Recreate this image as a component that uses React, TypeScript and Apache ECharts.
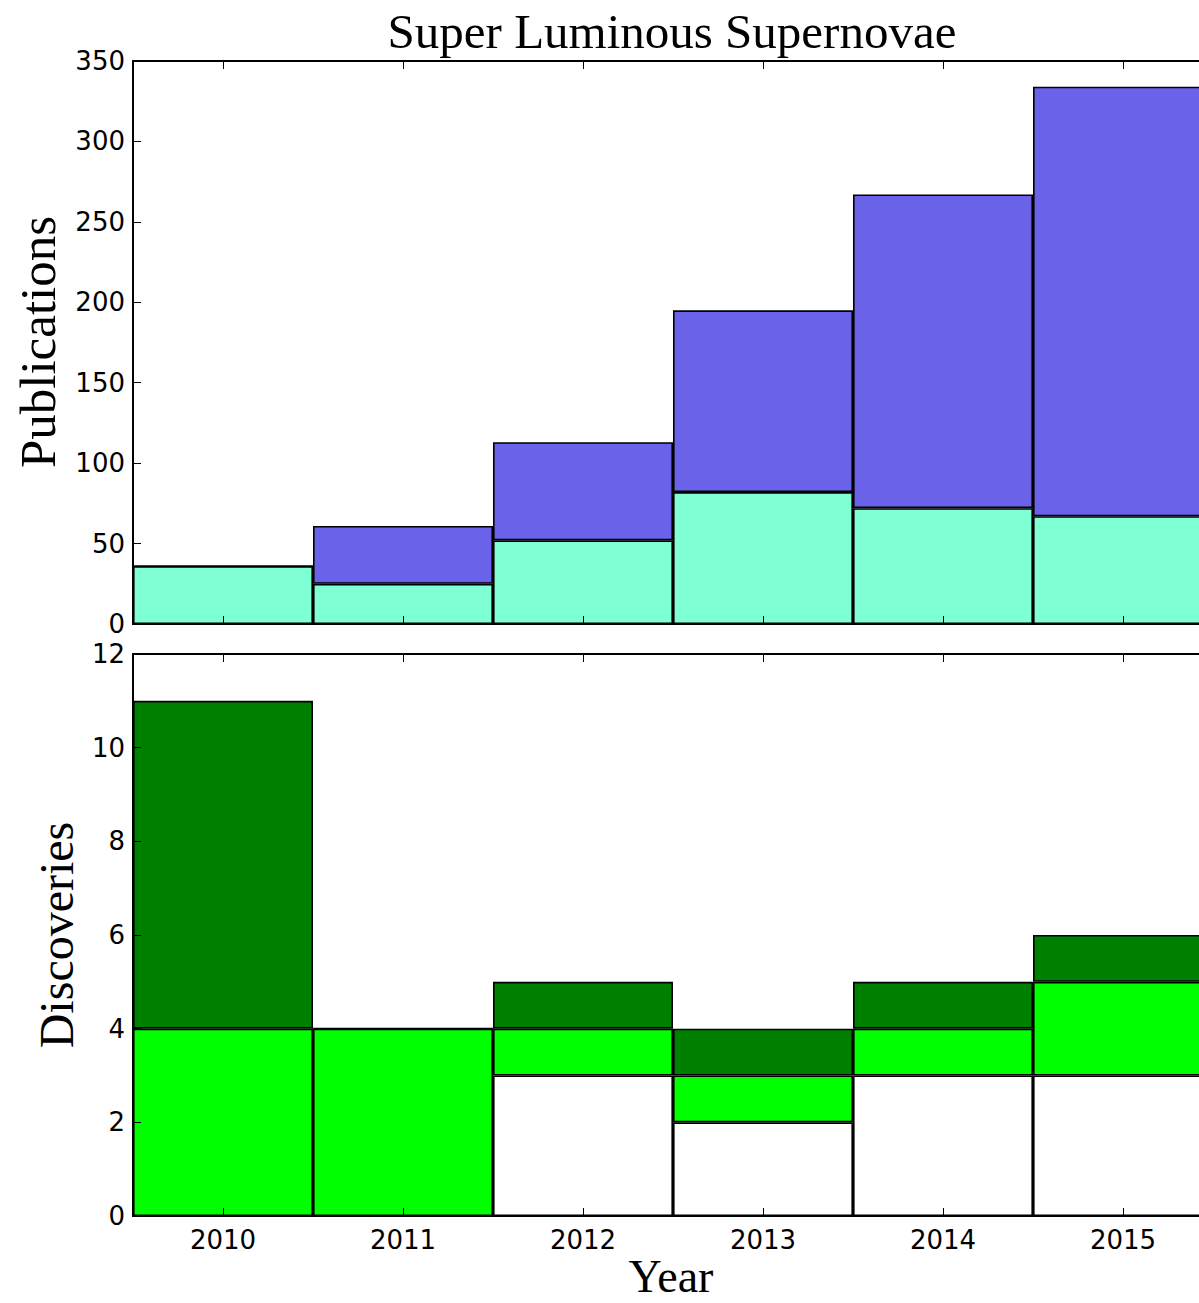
import React, { useEffect, useRef } from "react";
import * as echarts from "echarts";

const years = ["2010", "2011", "2012", "2013", "2014", "2015"];
// Publications: new in that year (aquamarine) and earlier cumulative (purple)
const newPublications = [36, 25, 52, 82, 72, 67];
const earlierPublications = [0, 36, 61, 113, 195, 267];
// Discoveries: stacked segments
const discWhite = [0, 0, 3, 2, 3, 3];
const discLime = [4, 4, 1, 1, 1, 2];
const discGreen = [7, 0, 1, 1, 1, 1];

const pubTicks = { min: 0, max: 350, interval: 50 };
const discTicks = { min: 0, max: 12, interval: 2 };

const SANS = "DejaVu Sans";
const SERIF = "Liberation Serif";

export default function App() {
  const ref = useRef<HTMLDivElement>(null);
  useEffect(() => {
    if (!ref.current) return;
    const chart = echarts.init(ref.current, null, { renderer: "svg" });
    const axisLine = { show: true, lineStyle: { color: "#000", width: 2 } };
    const tick = { show: true, inside: true, length: 8, alignWithLabel: true, lineStyle: { color: "#000", width: 1 } };
    const xAxisBase = (gridIndex: number, position: string, labels: boolean) => ({
      type: "category",
      data: years,
      gridIndex,
      position,
      z: 10,
      boundaryGap: true,
      axisLine,
      axisTick: tick,
      axisLabel: labels
        ? { show: true, color: "#000", fontFamily: SANS, fontSize: 26, margin: 11 }
        : { show: false },
      splitLine: { show: false },
    });
    const yAxisBase = (gridIndex: number, t: any) => ({
      type: "value",
      gridIndex,
      min: t.min,
      max: t.max,
      interval: t.interval,
      z: 10,
      axisLine,
      axisTick: { show: true, inside: true, length: 8, lineStyle: { color: "#000", width: 1 } },
      axisLabel: { show: true, color: "#000", fontFamily: SANS, fontSize: 26, margin: 8 },
      splitLine: { show: false },
    });
    const bar = (name: string, data: number[], color: string, stack: string, xi: number, yi: number) => ({
      type: "bar",
      name,
      data,
      stack,
      xAxisIndex: xi,
      yAxisIndex: yi,
      barWidth: "100%",
      itemStyle: { color, borderColor: "#000", borderWidth: 1.6 },
    });
    chart.setOption({
      animation: false,
      backgroundColor: "#fff",
      grid: [
        { left: 133, top: 61, width: 1080, height: 563 },
        { left: 133, top: 654, width: 1080, height: 562 },
      ],
      xAxis: [
        xAxisBase(0, "bottom", false),
        xAxisBase(0, "top", false),
        xAxisBase(1, "bottom", true),
        xAxisBase(1, "top", false),
      ],
      yAxis: [yAxisBase(0, pubTicks), yAxisBase(1, discTicks)],
      series: [
        bar("New publications", newPublications, "#7FFFD4", "pub", 0, 0),
        bar("Earlier publications", earlierPublications, "#6A63EA", "pub", 0, 0),
        bar("Discoveries A", discWhite, "#FFFFFF", "disc", 2, 1),
        bar("Discoveries B", discLime, "#00FF00", "disc", 2, 1),
        bar("Discoveries C", discGreen, "#008000", "disc", 2, 1),
      ],
      graphic: [
        {
          type: "text",
          x: 672,
          y: 31,
          style: { text: "Super Luminous Supernovae", font: `49px "${SERIF}"`, fill: "#000", textAlign: "center", textVerticalAlign: "middle" },
        },
        {
          type: "text",
          x: 38,
          y: 342,
          rotation: Math.PI / 2,
          style: { text: "Publications", font: `51px "${SERIF}"`, fill: "#000", textAlign: "center", textVerticalAlign: "middle" },
        },
        {
          type: "text",
          x: 56,
          y: 935,
          rotation: Math.PI / 2,
          style: { text: "Discoveries", font: `48px "${SERIF}"`, fill: "#000", textAlign: "center", textVerticalAlign: "middle" },
        },
        {
          type: "text",
          x: 671,
          y: 1276,
          style: { text: "Year", font: `46px "${SERIF}"`, fill: "#000", textAlign: "center", textVerticalAlign: "middle" },
        },
      ],
    });
    return () => chart.dispose();
  }, []);
  return (
    <div style={{ position: "absolute", left: 0, top: 0, width: 1199, height: 1303, overflow: "hidden", background: "#fff" }}>
      <div ref={ref} style={{ width: 1240, height: 1303 }} />
    </div>
  );
}
